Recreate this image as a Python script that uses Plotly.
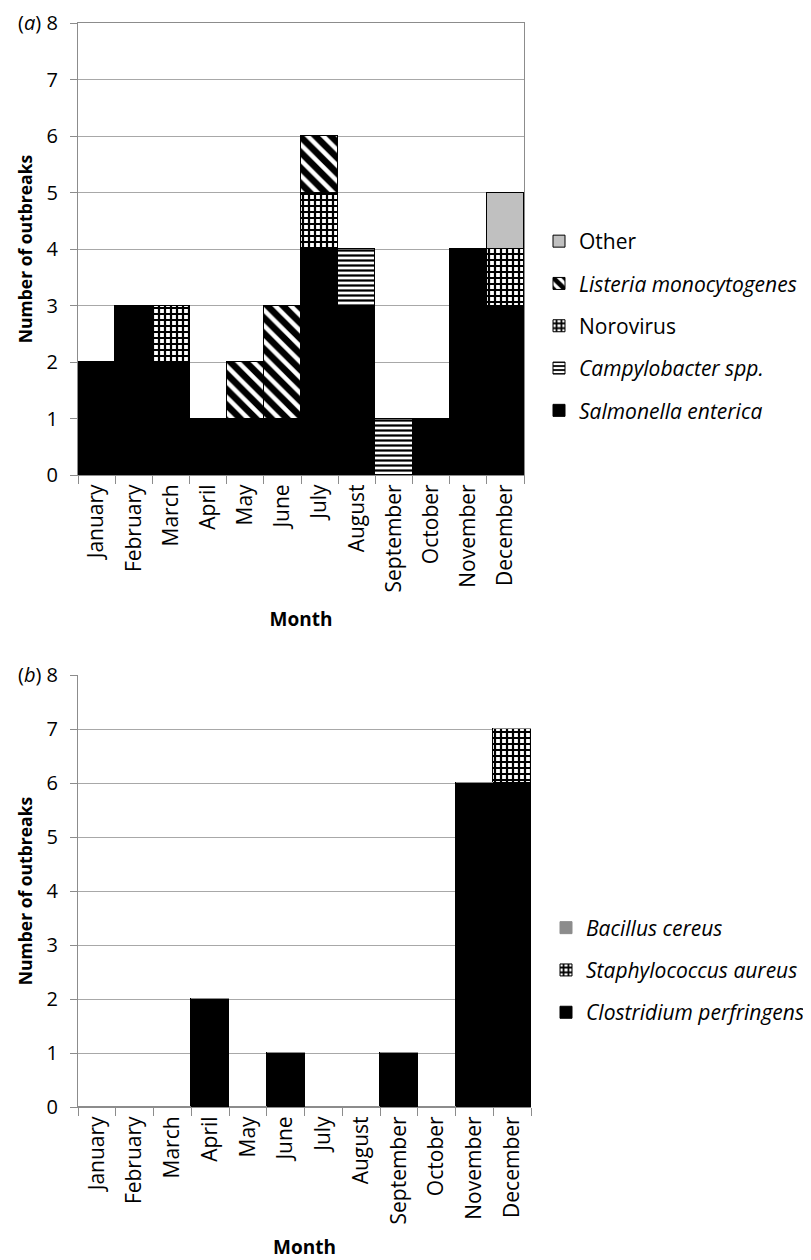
import plotly.graph_objects as go

months = ["January", "February", "March", "April", "May", "June", "July",
          "August", "September", "October", "November", "December"]

# Panel (a)
salmonella = [2, 3, 2, 1, 1, 1, 4, 3, 0, 1, 4, 3]
campylobacter = [0, 0, 0, 0, 0, 0, 0, 1, 1, 0, 0, 0]
norovirus = [0, 0, 1, 0, 0, 0, 1, 0, 0, 0, 0, 1]
listeria = [0, 0, 0, 0, 1, 2, 1, 0, 0, 0, 0, 0]
other = [0, 0, 0, 0, 0, 0, 0, 0, 0, 0, 0, 1]

# Panel (b)
clostridium = [0, 0, 0, 2, 0, 1, 0, 0, 1, 0, 6, 6]
staphylococcus = [0, 0, 0, 0, 0, 0, 0, 0, 0, 0, 0, 1]
bacillus = [0, 0, 0, 0, 0, 0, 0, 0, 0, 0, 0, 0]

FONT = "Open Sans"
GRID = dict(shape="+", fgcolor="black", bgcolor="white", fgopacity=1, size=6, solidity=0.6)

fig = go.Figure()

def add(name, vals, xa, ya, leg, rank, color="black", pattern=None, lcolor="black"):
    marker = dict(color=color, line=dict(color=lcolor, width=1))
    if pattern:
        marker["pattern"] = pattern
    fig.add_trace(go.Bar(x=months, y=vals, name=name, xaxis=xa, yaxis=ya,
                         marker=marker, legend=leg, legendgroup=name, legendrank=rank))

# top panel (a)
add("<i>Salmonella enterica</i>", salmonella, "x", "y", "legend", 5, "black")
add("<i>Campylobacter spp.</i>", campylobacter, "x", "y", "legend", 4, "white",
    dict(shape="-", fgcolor="black", bgcolor="white", fgopacity=1, size=5, solidity=0.45))
add("Norovirus", norovirus, "x", "y", "legend", 3, "white", GRID)
add("<i>Listeria monocytogenes</i>", listeria, "x", "y", "legend", 2, "white",
    dict(shape="\\", fgcolor="black", bgcolor="white", fgopacity=1, size=11, solidity=0.6))
add("Other", other, "x", "y", "legend", 1, "#c0c0c0")

# bottom panel (b)
add("<i>Clostridium perfringens</i>", clostridium, "x2", "y2", "legend2", 3, "black")
add("<i>Staphylococcus aureus</i>", staphylococcus, "x2", "y2", "legend2", 2, "white", GRID)
add("<i>Bacillus cereus</i>", bacillus, "x2", "y2", "legend2", 1, "#8c8c8c", lcolor="#8c8c8c")

# page has an 8px body margin: figure coords = page coords - 8
W, H = 803, 1252
gridc = "#a8a8a8"
axc = "#8c8c8c"

def xax(domain, anchor, mirror):
    return dict(domain=domain, anchor=anchor, type="category", tickson="boundaries",
                ticks="outside", ticklen=8, tickcolor=axc, showline=True, linecolor=axc,
                mirror=mirror, tickangle=-90, showgrid=False, automargin=False,
                tickfont=dict(family=FONT, size=21, color="black"),
                title=dict(text="<b>Month</b>", font=dict(family=FONT, size=19, color="black"),
                           standoff=21))

def yax(domain, anchor, mirror):
    return dict(domain=domain, anchor=anchor, range=[0, 8], dtick=1, ticks="outside",
                ticklen=7, tickcolor=axc, showline=True, linecolor=axc, mirror=mirror,
                showgrid=True, gridcolor=gridc, gridwidth=1, zeroline=False, automargin=False,
                ticklabelstandoff=8, ticklabeloverflow="allow",
                tickfont=dict(family=FONT, size=20, color="black"),
                title=dict(text="<b>Number of outbreaks</b>",
                           font=dict(family=FONT, size=17.5, color="black"), standoff=9))

leg_common = dict(xanchor="left", yanchor="middle", traceorder="grouped", tracegroupgap=12,
                  font=dict(family=FONT, size=21, color="black"), itemwidth=30,
                  bgcolor="rgba(0,0,0,0)")

fig.update_layout(
    width=W, height=H, autosize=False,
    margin=dict(l=0, r=0, t=0, b=0),
    paper_bgcolor="white", plot_bgcolor="white",
    barmode="stack", bargap=0,
    font=dict(family=FONT, color="black"),
    xaxis=xax([70 / W, 516 / W], "y", True),
    yaxis=yax([1 - 467 / H, 1 - 15 / H], "x", True),
    xaxis2=xax([70 / W, 523 / W], "y2", False),
    yaxis2=yax([1 - 1099 / H, 1 - 667 / H], "x2", False),
    legend=dict(x=531 / W, y=1 - 318 / H, **leg_common),
    legend2=dict(x=538 / W, y=1 - 962 / H, **leg_common),
    annotations=[
        dict(text="(<i>a</i>)", x=8 / W, y=1 - 15 / H, xref="paper", yref="paper",
             xanchor="left", yanchor="middle", showarrow=False,
             font=dict(family=FONT, size=20, color="black")),
        dict(text="(<i>b</i>)", x=8 / W, y=1 - 667 / H, xref="paper", yref="paper",
             xanchor="left", yanchor="middle", showarrow=False,
             font=dict(family=FONT, size=20, color="black")),
    ],
)

fig.write_html("out.html")
